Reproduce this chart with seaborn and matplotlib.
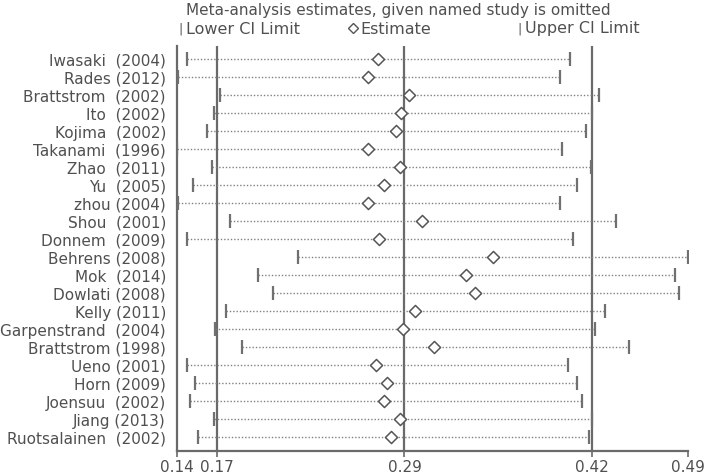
import matplotlib
matplotlib.use("Agg")
import matplotlib.pyplot as plt
import pandas as pd
import seaborn as sns

# study labels, top to bottom
studies = [
    "Iwasaki  (2004)", "Rades (2012)", "Brattstrom  (2002)", "Ito  (2002)",
    "Kojima  (2002)", "Takanami  (1996)", "Zhao  (2011)", "Yu  (2005)",
    "zhou (2004)", "Shou  (2001)", "Donnem  (2009)", "Behrens (2008)",
    "Mok  (2014)", "Dowlati (2008)", "Kelly (2011)", "Garpenstrand  (2004)",
    "Brattstrom (1998)", "Ueno (2001)", "Horn (2009)", "Joensuu  (2002)",
    "Jiang (2013)", "Ruotsalainen  (2002)",
]
lower = [0.147, 0.141, 0.169, 0.165, 0.160, 0.140, 0.164, 0.151, 0.141, 0.176, 0.147,
         0.222, 0.195, 0.205, 0.173, 0.166, 0.184, 0.147, 0.152, 0.149, 0.165, 0.154]
estimate = [0.276, 0.269, 0.297, 0.292, 0.288, 0.269, 0.291, 0.280, 0.269, 0.306, 0.277,
            0.354, 0.336, 0.342, 0.301, 0.293, 0.314, 0.275, 0.282, 0.280, 0.291, 0.285]
upper = [0.406, 0.399, 0.426, 0.421, 0.417, 0.401, 0.420, 0.411, 0.399, 0.437, 0.408,
         0.486, 0.477, 0.480, 0.430, 0.423, 0.446, 0.405, 0.411, 0.414, 0.421, 0.419]

# pooled estimate with all studies included
pooled = [0.167, 0.294, 0.421]

df = pd.DataFrame({"study": studies, "lower": lower, "estimate": estimate, "upper": upper})
df["row"] = range(len(df))

sns.set_style("white")
plt.rcParams["font.family"] = ["DejaVu Sans"]

gray = "#6a6a6a"
txt = "#505050"

fig = plt.figure(figsize=(7.1, 4.77), dpi=100)
ax = fig.add_axes([177 / 710, 25 / 477, 511 / 710, 405 / 477])

for x in pooled:
    ax.axvline(x, color=gray, lw=1.6, zorder=1)

ax.hlines(df["row"], df["lower"], df["upper"], colors="#808080", linestyles=(0, (1, 1.4)), lw=1.0, zorder=2)
ax.plot(df["lower"], df["row"], ls="none", marker="|", ms=10, mew=1.6, color="#707070", zorder=3)
ax.plot(df["upper"], df["row"], ls="none", marker="|", ms=10, mew=1.6, color="#707070", zorder=3)
sns.scatterplot(data=df, x="estimate", y="row", marker="D", s=38, facecolor="white",
                edgecolor="#555555", linewidth=1.1, zorder=4, ax=ax)

xmin, xmax = min(lower), max(upper)
ax.set_xlim(xmin, xmax)
ax.set_ylim(len(df) - 1 + 14 / 18, -13 / 18)

ticks = [xmin] + pooled + [xmax]
ax.set_xticks(ticks)
ax.set_xticklabels([f"{t:.2f}" for t in ticks])
ax.set_yticks(df["row"])
ax.set_yticklabels(df["study"])
ax.tick_params(axis="y", length=0, pad=8, labelsize=11, labelcolor=txt)
ax.tick_params(axis="x", direction="out", length=4, width=1.2, color=gray, pad=2,
               labelsize=11, labelcolor=txt, bottom=True)
ax.set_xlabel("")
ax.set_ylabel("")

for side in ["top", "right"]:
    ax.spines[side].set_visible(False)
for side in ["left", "bottom"]:
    ax.spines[side].set_color(gray)
    ax.spines[side].set_linewidth(1.6)

# title and key
fig.text(398 / 710, 1 - 11 / 477, "Meta-analysis estimates, given named study is omitted",
         ha="center", va="center", fontsize=11, color=txt)
ky = 1 - 29 / 477
fig.text(178 / 710, ky, "|", ha="left", va="center", fontsize=9, color=txt)
fig.text(186 / 710, ky, "Lower CI Limit", ha="left", va="center", fontsize=11.5, color=txt)
ax.plot([353 / 710], [ky], transform=fig.transFigure, clip_on=False, ls="none", marker="D",
        ms=5, mfc="white", mec="#555555", mew=1.0)
fig.text(360 / 710, ky, "Estimate", ha="left", va="center", fontsize=11.5, color=txt)
fig.text(517 / 710, ky, "|", ha="left", va="center", fontsize=9, color=txt)
fig.text(525 / 710, ky, "Upper CI Limit", ha="left", va="center", fontsize=11.5, color=txt)

fig.savefig("out.png", dpi=100)
plt.close(fig)
